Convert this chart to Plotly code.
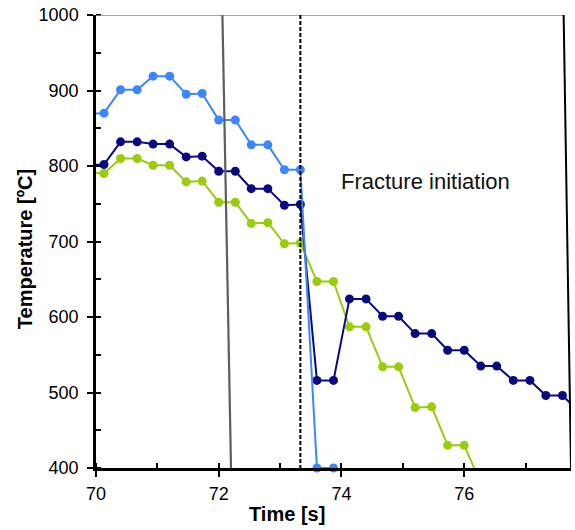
import numpy as np
import plotly.graph_objects as go

# ---- data ----
time_s = [69.87, 70.13, 70.40, 70.67, 70.93, 71.20, 71.47, 71.73, 72.00, 72.27,
          72.53, 72.80, 73.07, 73.33, 73.60, 73.87, 74.13, 74.40, 74.67, 74.93,
          75.20, 75.47, 75.73, 76.00, 76.27, 76.53, 76.80, 77.07, 77.33, 77.60,
          77.87]

temp_light = [869, 870, 901, 901, 919, 919, 895, 896, 861, 861,
              828, 828, 795, 795, 400, 400]

temp_navy = [801, 802, 832, 832, 829, 829, 812, 813, 793, 793,
             770, 770, 748, 749, 516, 516, 624, 624, 601, 601,
             578, 578, 556, 556, 535, 535, 516, 516, 496, 496,
             475]

temp_green = [792, 790, 810, 810, 801, 801, 779, 780, 752, 752,
              724, 725, 697, 698, 647, 647, 587, 587, 534, 534,
              480, 481, 430, 430, 380]

annotation_text = "Fracture initiation"
x_title = "Time [s]"
y_title = "Temperature [ºC]"

# ---- styling / layout ----
X_MIN, X_MAX = 70, 77.74
Y_MIN, Y_MAX = 400, 1000
FONT = "Liberation Sans, Arial, sans-serif"

series = [
    ("green", temp_green, "#99cc0a"),
    ("navy", temp_navy, "#0a0a80"),
    ("light", temp_light, "#3a86fc"),
]

fig = go.Figure()
for name, vals, col in series:
    t = np.array(time_s[:len(vals)])
    v = np.array(vals)
    fig.add_trace(go.Scatter(x=t, y=v, mode="lines",
                             line=dict(color=col, width=2),
                             hoverinfo="skip", showlegend=False))
    m = (t >= X_MIN) & (t <= X_MAX) & (v >= Y_MIN) & (v <= Y_MAX)
    fig.add_trace(go.Scatter(x=t[m], y=v[m], mode="markers",
                             marker=dict(color=col, size=9),
                             cliponaxis=False, showlegend=False, name=name))

# frame lines and markers of the event
fig.add_shape(type="line", x0=X_MIN, x1=77.62, y0=Y_MAX, y1=Y_MAX,
              line=dict(color="#8a8a8a", width=1.5), layer="above")
fig.add_shape(type="line", x0=77.62, x1=X_MAX, y0=Y_MAX, y1=Y_MIN,
              line=dict(color="#000000", width=2), layer="above")
fig.add_shape(type="line", x0=72.06, x1=72.20, y0=Y_MAX, y1=Y_MIN,
              line=dict(color="#5e5e5e", width=2.2), layer="above")
fig.add_shape(type="line", x0=73.33, x1=73.33, y0=Y_MAX, y1=Y_MIN,
              line=dict(color="#000000", width=2, dash="4px,2px"), layer="above")

fig.add_annotation(x=75.37, y=780, text=annotation_text, showarrow=False,
                   xanchor="center", yanchor="middle",
                   font=dict(family=FONT, size=22, color="#111111"))
fig.add_annotation(xref="paper", yref="paper", x=0.403, y=-0.102,
                   xanchor="center", yanchor="middle",
                   text="<b>%s</b>" % x_title, showarrow=False,
                   font=dict(family=FONT, size=20, color="#000000"))
fig.add_annotation(xref="paper", yref="paper", x=-0.1495, y=0.483,
                   xanchor="center", yanchor="middle",
                   text="<b>%s</b>" % y_title, showarrow=False, textangle=-90,
                   font=dict(family=FONT, size=20, color="#000000"))

fig.update_layout(
    width=575, height=530,
    margin=dict(l=96, r=4, t=15, b=62, autoexpand=False),
    paper_bgcolor="white", plot_bgcolor="white",
    font=dict(family=FONT, size=18, color="#000000"),
    xaxis=dict(range=[X_MIN, X_MAX], tickmode="linear", tick0=70, dtick=2,
               showgrid=False, automargin=False, ticklabeloverflow="allow",
               zeroline=False, showline=True, linecolor="#000000", linewidth=2.5,
               ticks="outside", ticklen=6, tickwidth=2, tickcolor="#000000",
               ticklabelstandoff=2,
               minor=dict(tick0=70, dtick=1, ticks="inside", ticklen=5,
                          tickwidth=2, tickcolor="#000000", showgrid=False)),
    yaxis=dict(range=[Y_MIN, Y_MAX], tickmode="linear", tick0=400, dtick=100,
               showgrid=False, automargin=False, ticklabeloverflow="allow",
               zeroline=False, showline=True, linecolor="#000000", linewidth=2.5,
               ticks="outside", ticklen=6, tickwidth=2, tickcolor="#000000",
               ticklabelstandoff=5,
               minor=dict(tick0=400, dtick=50, ticks="inside",
                          ticklen=5, tickwidth=2, tickcolor="#000000",
                          showgrid=False)),
)

# remove the default 8px page margin so the figure fills the window exactly
fig.write_html("out.html",
               config={"displayModeBar": False},
               post_script="document.body.style.margin='0';")
